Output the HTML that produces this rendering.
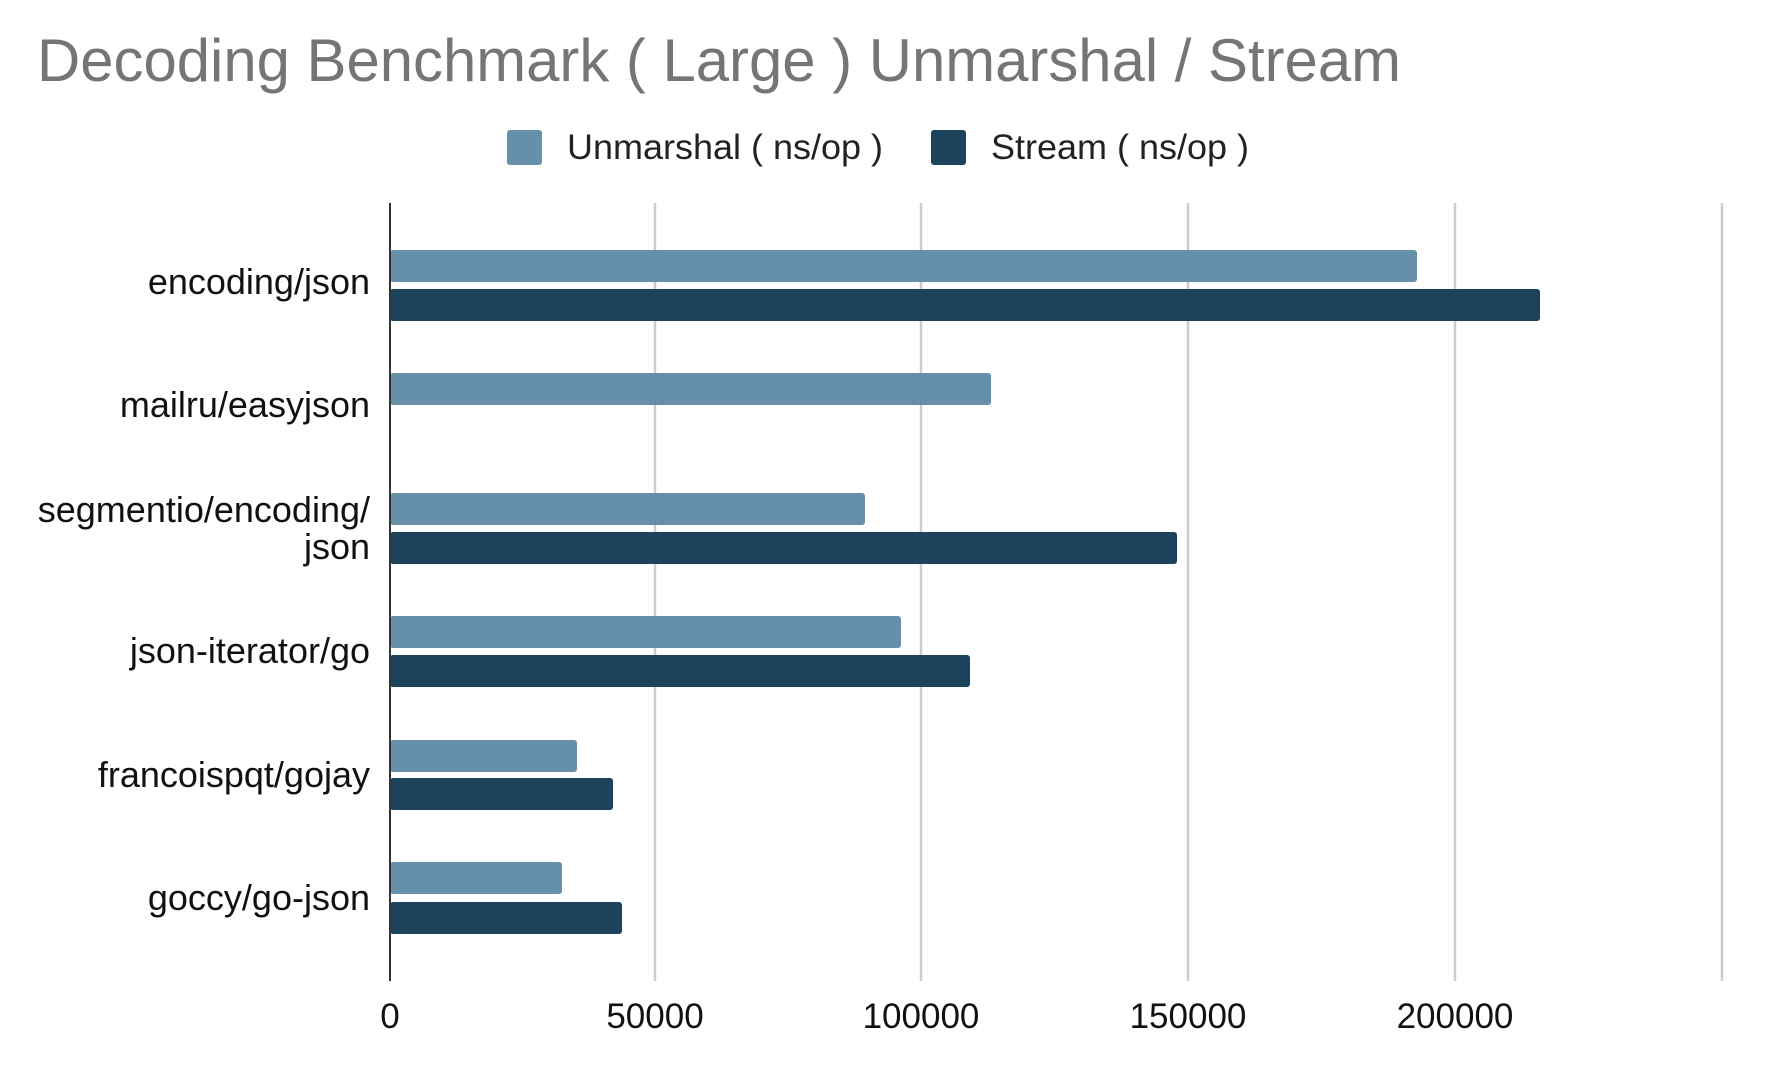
<!DOCTYPE html><html><head><style>body{margin:0;background:#fff}svg text{font-family:"Liberation Sans",Arial,sans-serif}</style></head><body>
<svg width="1768" height="1070" xmlns="http://www.w3.org/2000/svg">
<text x="37" y="81" font-size="60" fill="#757575" textLength="1364" lengthAdjust="spacingAndGlyphs">Decoding Benchmark ( Large ) Unmarshal / Stream</text>
<rect x="507" y="130" width="35" height="35" rx="3" fill="#6690aa"/>
<text x="567" y="159" font-size="35" fill="#222" textLength="316" lengthAdjust="spacingAndGlyphs">Unmarshal ( ns/op )</text>
<rect x="931" y="130" width="35" height="35" rx="3" fill="#1b445c"/>
<text x="991" y="159" font-size="35" fill="#222" textLength="258" lengthAdjust="spacingAndGlyphs">Stream ( ns/op )</text>
<g stroke="#ccc" stroke-width="2.5">
<line x1="655" y1="203" x2="655" y2="981"/><line x1="921" y1="203" x2="921" y2="981"/><line x1="1188" y1="203" x2="1188" y2="981"/><line x1="1455" y1="203" x2="1455" y2="981"/><line x1="1722" y1="203" x2="1722" y2="981"/>
</g>
<g fill="#6690aa">
<rect x="390" y="250" width="1027" height="32" rx="3"/>
<rect x="390" y="373" width="601" height="32" rx="3"/>
<rect x="390" y="493" width="475" height="32" rx="3"/>
<rect x="390" y="616" width="511" height="32" rx="3"/>
<rect x="390" y="740" width="187" height="32" rx="3"/>
<rect x="390" y="862" width="172" height="32" rx="3"/>
</g>
<g fill="#1b445c">
<rect x="390" y="289" width="1150" height="32" rx="3"/>
<rect x="390" y="532" width="787" height="32" rx="3"/>
<rect x="390" y="655" width="580" height="32" rx="3"/>
<rect x="390" y="778" width="223" height="32" rx="3"/>
<rect x="390" y="902" width="232" height="32" rx="3"/>
</g>
<line x1="390" y1="203" x2="390" y2="981" stroke="#333" stroke-width="2"/>
<g font-size="36" fill="#111" text-anchor="end">
<text x="370" y="294">encoding/json</text>
<text x="370" y="417">mailru/easyjson</text>
<text x="370" y="522">segmentio/encoding/</text>
<text x="370" y="559">json</text>
<text x="370" y="663">json-iterator/go</text>
<text x="370" y="787">francoispqt/gojay</text>
<text x="370" y="910">goccy/go-json</text>
</g>
<g font-size="35" fill="#111" text-anchor="middle">
<text x="390" y="1028">0</text><text x="655" y="1028">50000</text><text x="921" y="1028">100000</text><text x="1188" y="1028">150000</text><text x="1455" y="1028">200000</text>
</g>
</svg></body></html>
